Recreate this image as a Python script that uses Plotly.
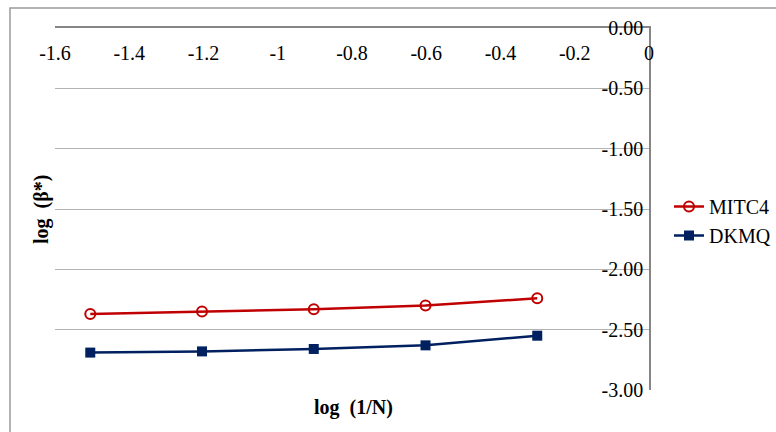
import plotly.graph_objects as go

# Data
x_vals = [-1.505, -1.204, -0.903, -0.602, -0.301]
mitc4 = [-2.37, -2.35, -2.33, -2.30, -2.24]
dkmq = [-2.69, -2.68, -2.66, -2.63, -2.55]
x_tick_vals = [-1.6, -1.4, -1.2, -1.0, -0.8, -0.6, -0.4, -0.2, 0.0]
x_tick_labels = ["-1.6", "-1.4", "-1.2", "-1", "-0.8", "-0.6", "-0.4", "-0.2", "0"]
y_tick_vals = [0.0, -0.5, -1.0, -1.5, -2.0, -2.5, -3.0]
y_tick_labels = ["0.00", "-0.50", "-1.00", "-1.50", "-2.00", "-2.50", "-3.00"]

FONT = "Liberation Serif"
RED = "#C00000"
NAVY = "#002060"

W, H = 776, 432
L, T = 55, 28
PW, PH = 594, 362
R, B = W - L - PW, H - T - PH


def px_x(px):
    return (px - L) / PW


def px_y(py):
    return (H - B - py) / PH


fig = go.Figure()
fig.add_trace(go.Scatter(
    x=x_vals, y=mitc4, name="MITC4", mode="lines+markers",
    line=dict(color=RED, width=2.5),
    marker=dict(symbol="circle-open", size=10, color=RED, line=dict(width=2, color=RED)),
))
fig.add_trace(go.Scatter(
    x=x_vals, y=dkmq, name="DKMQ", mode="lines+markers",
    line=dict(color=NAVY, width=2.5),
    marker=dict(symbol="square", size=10, color=NAVY),
))

fig.update_layout(
    width=W, height=H,
    margin=dict(l=L, r=R, t=T, b=B, pad=0, autoexpand=False),
    paper_bgcolor="white", plot_bgcolor="white",
    font=dict(family=FONT, size=20, color="black"),
    showlegend=True,
    legend=dict(x=px_x(669), xanchor="left", y=px_y(187), yanchor="top",
                font=dict(family=FONT, size=20, color="black"),
                bgcolor="rgba(0,0,0,0)", tracegroupgap=0, itemwidth=30),
    xaxis=dict(
        range=[-1.6, 0], side="top", showgrid=False, zeroline=False,
        showline=True, linecolor="#868686", linewidth=1.5,
        tickvals=x_tick_vals, ticktext=x_tick_labels,
        ticklabelposition="inside", ticklabeloverflow="allow",
        ticks="", ticklabelstandoff=19,
        tickfont=dict(family=FONT, size=20, color="black"),
    ),
    yaxis=dict(
        range=[-3, 0], side="right", showgrid=True, gridcolor="#b3b3b3", gridwidth=1,
        zeroline=False, showline=True, linecolor="#868686", linewidth=1.5,
        tickvals=y_tick_vals, ticktext=y_tick_labels,
        ticklabelposition="inside", ticklabeloverflow="allow",
        ticks="", ticklabelstandoff=7,
        tickfont=dict(family=FONT, size=20, color="black"),
    ),
    annotations=[
        dict(text="<b>log  (1/N)</b>", xref="paper", yref="paper",
             x=px_x(353), y=px_y(407), showarrow=False,
             font=dict(family=FONT, size=20, color="black"),
             xanchor="center", yanchor="middle"),
        dict(text="<b>log  (β*)</b>", xref="paper", yref="paper",
             x=px_x(42), y=px_y(210), showarrow=False, textangle=-90,
             font=dict(family=FONT, size=20, color="black"),
             xanchor="center", yanchor="middle"),
    ],
    shapes=[
        dict(type="rect", xref="paper", yref="paper",
             x0=px_x(10), x1=px_x(800), y0=px_y(460), y1=px_y(8),
             line=dict(color="#9a9a9a", width=1.5), fillcolor="rgba(0,0,0,0)", layer="below"),
    ],
)

fig.write_html(
    "out.html",
    config={"displayModeBar": False},
    post_script="document.body.style.margin='0';document.body.style.overflow='hidden';",
)
